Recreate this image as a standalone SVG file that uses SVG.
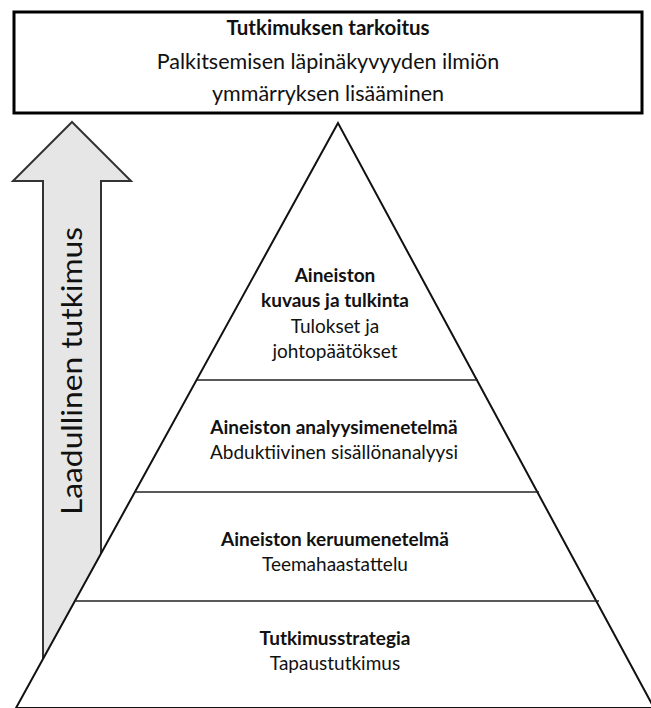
<svg xmlns="http://www.w3.org/2000/svg" width="651" height="708" viewBox="0 0 651 708">
<style>
text{font-family:Lato,"Open Sans","Liberation Sans",sans-serif;fill:#111;text-anchor:middle}
.b{font-weight:bold;font-size:19px}
.r{font-size:19px}
.t{font-size:21.5px}
.tb{font-size:20.5px;font-weight:bold}
.edge{fill:none;stroke:#222;stroke-width:1.5}
</style>
<rect width="651" height="708" fill="#fff"/>
<g id="purpose">
<rect x="14" y="12" width="628" height="101" fill="#fff" stroke="#000" stroke-width="3"/>
<text class="tb" x="328" y="35">Tutkimuksen tarkoitus</text>
<text class="t" x="328" y="69">Palkitsemisen läpinäkyvyyden ilmiön</text>
<text class="t" x="328" y="101">ymmärryksen lisääminen</text>
</g>
<g id="arrow">
<polygon points="72,122 131,181 101,181 101,708 43,708 43,181 13,181" fill="#e6e6e6" stroke="#333" stroke-width="2" stroke-linejoin="miter"/>
<text x="72" y="371" transform="rotate(-90 72 371)" dy="10" textLength="288" lengthAdjust="spacingAndGlyphs" style="font-size:29px">Laadullinen tutkimus</text>
</g>
<g id="pyramid">
<polygon points="338,123 16,708 654,708" fill="#fff" stroke="#111" stroke-width="2"/>
</g>
<g id="connectors">
<line class="edge" x1="197" y1="380" x2="478" y2="380"/>
<line class="edge" x1="135" y1="492" x2="539" y2="492"/>
<line class="edge" x1="75" y1="601" x2="599" y2="601"/>
</g>
<g id="level4">
<text class="b" x="335" y="282">Aineiston</text>
<text class="b" x="335" y="307">kuvaus ja tulkinta</text>
<text class="r" x="335" y="333">Tulokset ja</text>
<text class="r" x="335" y="358">johtopäätökset</text>
</g>
<g id="level3">
<text class="b" x="334" y="434">Aineiston analyysimenetelmä</text>
<text class="r" x="334" y="459">Abduktiivinen sisällönanalyysi</text>
</g>
<g id="level2">
<text class="b" x="335" y="546">Aineiston keruumenetelmä</text>
<text class="r" x="335" y="571">Teemahaastattelu</text>
</g>
<g id="level1">
<text class="b" x="335" y="645">Tutkimusstrategia</text>
<text class="r" x="335" y="670">Tapaustutkimus</text>
</g>
</svg>
